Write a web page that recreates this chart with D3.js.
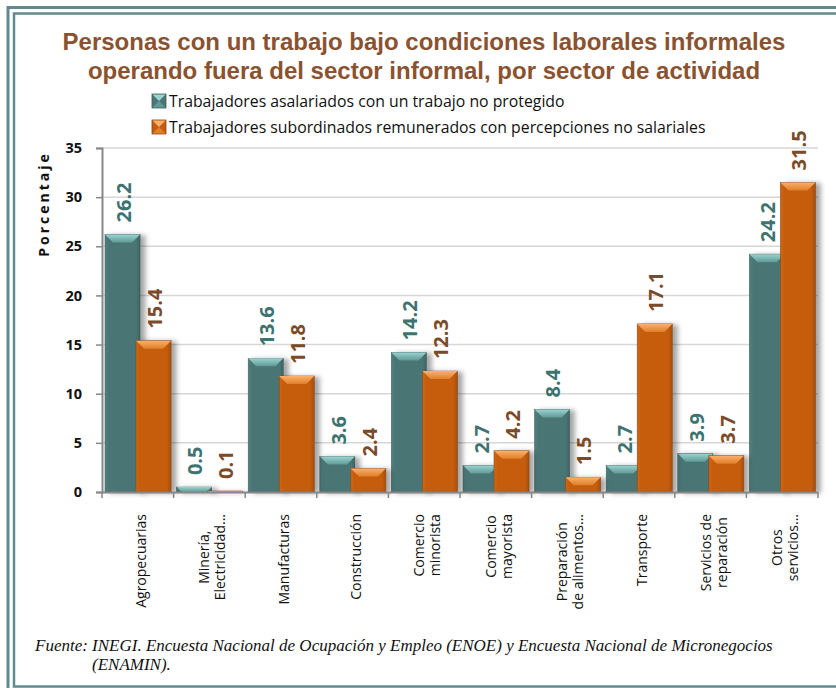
<!DOCTYPE html>
<html lang="es">
<head>
<meta charset="UTF-8">
<title>Trabajo informal por sector de actividad</title>
<script src="https://d3js.org/d3.v7.min.js"></script>
<style>
  html, body { margin: 0; padding: 0; background: #fff; }
  svg text { font-family: 'Open Sans', sans-serif; }
</style>
</head>
<body>
<div id="chart"></div>
<script>

// categorias (cada una en sus lineas) y valores de las dos series
var categories = [
  ["Agropecuarias"],
  ["Minería,", "Electricidad..."],
  ["Manufacturas"],
  ["Construcción"],
  ["Comercio", "minorista"],
  ["Comercio", "mayorista"],
  ["Preparación", "de alimentos..."],
  ["Transporte"],
  ["Servicios de", "reparación"],
  ["Otros", "servicios..."]
];
var asalariados = [26.2, 0.5, 13.6, 3.6, 14.2, 2.7, 8.4, 2.7, 3.9, 24.2];
var subordinados = [15.4, 0.1, 11.8, 2.4, 12.3, 4.2, 1.5, 17.1, 3.7, 31.5];
var seriesNames = [
  "Trabajadores asalariados con un trabajo no protegido",
  "Trabajadores subordinados remunerados con percepciones no salariales"
];
var yTicks = [0, 5, 10, 15, 20, 25, 30, 35];
var titleLines = [
  "Personas con un trabajo bajo condiciones laborales informales",
  "operando fuera del sector informal, por sector de actividad"
];
var sourceLines = [
  "Fuente: INEGI. Encuesta Nacional de Ocupación y Empleo (ENOE) y Encuesta Nacional de Micronegocios",
  "(ENAMIN)."
];

var W = 836, H = 688;

var svg = d3.select("#chart")
.append("svg")
.attr("width", W)
.attr("height", H);

var defs = svg.append("defs");

var shadow = defs.append("filter")
.attr("id", "shadow")
.attr("x", "-20%").attr("y", "-10%")
.attr("width", "160%").attr("height", "120%");
shadow.append("feDropShadow")
.attr("dx", 5).attr("dy", 1)
.attr("stdDeviation", 2.5)
.attr("flood-color", "#000")
.attr("flood-opacity", 0.35);

// colores de las dos series: cuerpo, bisel superior, borde
var palette = [
  { body: "#4a7674", light: "#9ad3cf", mid: "#5f9a97", edge: "#3b605e", label: "#3d7370" },
  { body: "#c55d10", light: "#fbb06a", mid: "#e07f2a", edge: "#7d4a26", label: "#7b4a28" }
];

palette.forEach(function(p, i) {
  var g = defs.append("linearGradient")
  .attr("id", "body" + i)
  .attr("x1", 0).attr("x2", 1).attr("y1", 0).attr("y2", 0);
  g.append("stop").attr("offset", "0%").attr("stop-color", d3.color(p.body).brighter(0.25));
  g.append("stop").attr("offset", "10%").attr("stop-color", p.body);
  g.append("stop").attr("offset", "88%").attr("stop-color", p.body);
  g.append("stop").attr("offset", "100%").attr("stop-color", d3.color(p.body).darker(0.5));

  var t = defs.append("linearGradient")
  .attr("id", "top" + i)
  .attr("x1", 0).attr("x2", 0).attr("y1", 0).attr("y2", 1);
  t.append("stop").attr("offset", "0%").attr("stop-color", p.light);
  t.append("stop").attr("offset", "100%").attr("stop-color", p.mid);
});

// marco doble
svg.append("rect")
.attr("x", 8).attr("y", 7.5)
.attr("width", W + 20).attr("height", H + 20)
.attr("fill", "none")
.attr("stroke", "#608a8d")
.attr("stroke-width", 3);

svg.append("rect")
.attr("x", 14).attr("y", 13.5)
.attr("width", W + 20).attr("height", 673)
.attr("fill", "none")
.attr("stroke", "#608a8d")
.attr("stroke-width", 2.5);

// titulo
svg.append("g")
.selectAll("text")
.data(titleLines)
.enter()
.append("text")
.attr("x", 424)
.attr("y", function(d, i) { return 50 + i * 29; })
.attr("text-anchor", "middle")
.style("font-family", "'Liberation Sans', Arial, sans-serif")
.style("font-weight", "bold")
.style("font-size", "24px")
.style("fill", "#8a522f")
.text(function(d) { return d; });

// escalas
var y_scale = d3.scaleLinear()
.domain([0, 35])
.range([492, 148]);

var x_scale = d3.scaleBand()
.domain(d3.range(categories.length))
.range([102, 818]);

var bw = x_scale.bandwidth();
var inner = d3.scaleLinear().domain([0, 1]).range([0, bw]);
var barW = inner(0.49);
var offsets = [inner(0.042), inner(0.475)];

// lineas de division
svg.append("g")
.selectAll("line")
.data(yTicks.filter(function(d) { return d > 0; }))
.enter()
.append("line")
.attr("x1", 102).attr("x2", 818)
.attr("y1", function(d) { return y_scale(d); })
.attr("y2", function(d) { return y_scale(d); })
.attr("stroke", "#d6d6d6")
.attr("stroke-width", 1.5);

// eje y
var y_axis = d3.axisLeft(y_scale)
.tickValues(yTicks)
.tickSize(6)
.tickPadding(14);

var yAxisG = svg.append("g")
.attr("transform", "translate(102,0)")
.call(y_axis);
yAxisG.select(".domain").attr("stroke", "#888").attr("stroke-width", 2);
yAxisG.selectAll(".tick line").attr("stroke", "#888").attr("stroke-width", 1.5);
yAxisG.selectAll(".tick text")
.style("font-family", "'Open Sans', sans-serif")
.style("font-weight", "bold")
.style("font-size", "14.5px")
.style("fill", "#111");

svg.append("text")
.attr("transform", "translate(49,204) rotate(-90)")
.attr("text-anchor", "middle")
.style("font-weight", "bold")
.style("font-size", "14px")
.style("letter-spacing", "3px")
.style("fill", "#111")
.text("Porcentaje");

// barras
var allSeries = [asalariados, subordinados];

allSeries.forEach(function(values, s) {
  var g = svg.append("g").attr("filter", "url(#shadow)");
  var bars = g.selectAll("g.bar")
  .data(values)
  .enter()
  .append("g")
  .attr("class", "bar");

  bars.append("rect")
  .attr("x", function(d, i) { return x_scale(i) + offsets[s]; })
  .attr("y", function(d) { return y_scale(d); })
  .attr("width", barW)
  .attr("height", function(d) { return y_scale(0) - y_scale(d); })
  .attr("fill", "url(#body" + s + ")")
  .attr("stroke", palette[s].edge)
  .attr("stroke-width", 0.6);

  // bisel superior
  bars.append("polygon")
  .attr("points", function(d, i) {
    var x0 = x_scale(i) + offsets[s];
    var top = y_scale(d);
    var h = Math.min(8, y_scale(0) - top);
    var k = h;
    return [[x0, top], [x0 + barW, top], [x0 + barW - k, top + h], [x0 + k, top + h]]
      .map(function(p) { return p.join(","); }).join(" ");
  })
  .attr("fill", "url(#top" + s + ")");
});

// etiquetas de valor
allSeries.forEach(function(values, s) {
  svg.append("g")
  .selectAll("text")
  .data(values)
  .enter()
  .append("text")
  .attr("transform", function(d, i) {
    var cx = x_scale(i) + offsets[s] + barW / 2 + 1;
    return "translate(" + cx + "," + (y_scale(d) - 12) + ") rotate(-90)";
  })
  .attr("dy", "0.36em")
  .style("font-weight", "bold")
  .style("font-size", "20px")
  .style("fill", palette[s].label)
  .text(function(d) { return d.toFixed(1); });
});

// eje x
var x_axis = d3.axisBottom(x_scale)
.tickSize(0)
.tickFormat("");

var xAxisG = svg.append("g")
.attr("transform", "translate(0,492)")
.call(x_axis);
xAxisG.select(".domain").attr("stroke", "#888").attr("stroke-width", 2);

svg.append("g")
.selectAll("line")
.data(d3.range(categories.length + 1))
.enter()
.append("line")
.attr("x1", function(i) { return i < categories.length ? x_scale(i) : x_scale.range()[1]; })
.attr("x2", function(i) { return i < categories.length ? x_scale(i) : x_scale.range()[1]; })
.attr("y1", 492).attr("y2", 498)
.attr("stroke", "#888")
.attr("stroke-width", 1.5);

// etiquetas de categoria
var catG = svg.append("g")
.selectAll("g")
.data(categories)
.enter()
.append("g");

catG.each(function(lines, i) {
  var g = d3.select(this);
  var lh = 16;
  var cx = x_scale(i) + bw / 2 + 3;
  var texts = lines.map(function(t, j) {
    return g.append("text")
    .attr("text-anchor", "middle")
    .attr("dy", "0.36em")
    .style("font-size", "14px")
    .style("fill", "#111")
    .text(t);
  });
  var maxLen = d3.max(texts, function(t) { return t.node().getComputedTextLength(); });
  var cy = 514 + maxLen / 2;
  texts.forEach(function(t, j) {
    var x = cx + (j - (lines.length - 1) / 2) * lh;
    t.attr("transform", "translate(" + x + "," + cy + ") rotate(-90)");
  });
});

// leyenda
var legend = svg.append("g")
.selectAll("g")
.data(seriesNames)
.enter()
.append("g")
.attr("transform", function(d, i) { return "translate(152," + (94 + i * 26) + ")"; });

legend.append("rect")
.attr("width", 14).attr("height", 14)
.attr("fill", function(d, i) { return palette[i].body; })
.attr("stroke", function(d, i) { return palette[i].edge; })
.attr("stroke-width", 0.8);

legend.append("polygon")
.attr("points", "0.5,0.5 13.5,0.5 7,7")
.attr("fill", function(d, i) { return palette[i].light; });

legend.append("polygon")
.attr("points", "0.5,13.5 13.5,13.5 7,7")
.attr("fill", function(d, i) { return palette[i].mid; });

legend.append("text")
.attr("x", 17)
.attr("y", 7)
.attr("dy", "0.36em")
.style("font-size", "15.8px")
.style("fill", "#111")
.text(function(d) { return d; });

// fuente
svg.append("g")
.selectAll("text")
.data(sourceLines)
.enter()
.append("text")
.attr("x", function(d, i) { return i === 0 ? 35 : 92; })
.attr("y", function(d, i) { return 651 + i * 19; })
.style("font-family", "'Liberation Serif', 'Times New Roman', serif")
.style("font-style", "italic")
.style("font-size", "17px")
.style("fill", "#111")
.text(function(d) { return d; });

</script>
</body>
</html>
